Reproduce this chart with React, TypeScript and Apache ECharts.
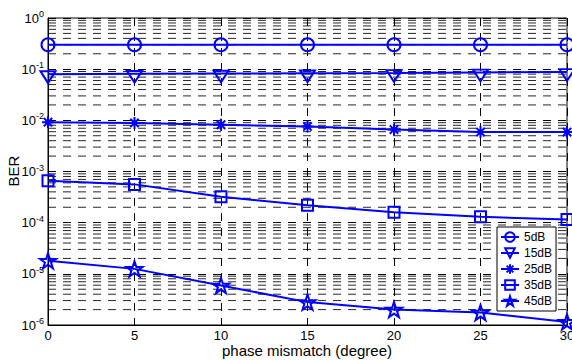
import React, { useEffect, useRef } from "react";
import * as echarts from "echarts";

const xValues = [0, 5, 10, 15, 20, 25, 30];
const seriesNames = ["5dB", "15dB", "25dB", "35dB", "45dB"];
const ber5dB = [0.3, 0.3, 0.3, 0.3, 0.3, 0.3, 0.3];
const ber15dB = [0.08, 0.081, 0.082, 0.083, 0.084, 0.086, 0.088];
const ber25dB = [0.0092, 0.0089, 0.0082, 0.0076, 0.0066, 0.0059, 0.0059];
const ber35dB = [6.6e-4, 5.6e-4, 3.2e-4, 2.2e-4, 1.6e-4, 1.3e-4, 1.15e-4];
const ber45dB = [1.8e-5, 1.25e-5, 5.9e-6, 2.8e-6, 2.0e-6, 1.75e-6, 1.15e-6];
const decadeExponents = [-6, -5, -4, -3, -2, -1];
const minorMultipliers = [2, 3, 4, 5, 6, 7, 8, 9];
const xAxisTitle = "phase mismatch (degree)";
const yAxisTitle = "BER";

const BLUE = "#0000ff";
const FONT = "Liberation Sans, Arial, Helvetica, sans-serif";

const symbols = [
  "circle",
  "path://M0,0L10,0L5,9Z",
  "path://M5,0L5,10M0,5L10,5M1.5,1.5L8.5,8.5M1.5,8.5L8.5,1.5",
  "rect",
  "path://M50,0L61.2,34.5L97.6,34.5L68.2,55.9L79.4,90.5L50,69.1L20.6,90.5L31.8,55.9L2.4,34.5L38.8,34.5Z",
];
const symbolSizes = [13, [15, 13], 12, 11, 16];

export default function App() {
  const ref = useRef<HTMLDivElement>(null);
  useEffect(() => {
    if (!ref.current) return;
    const chart = echarts.init(ref.current, null, { renderer: "svg" });
    const allData = [ber5dB, ber15dB, ber25dB, ber35dB, ber45dB];
    const minorData: any[] = [];
    decadeExponents.forEach((e) =>
      minorMultipliers.forEach((m) => {
        const v = m * Math.pow(10, e);
        minorData.push([xValues[0], v]);
        minorData.push([xValues[xValues.length - 1], v]);
        minorData.push([xValues[xValues.length - 1], "-"]);
      })
    );
    const series: any[] = [
      {
        type: "line",
        data: minorData,
        silent: true,
        showSymbol: false,
        symbol: "none",
        connectNulls: false,
        lineStyle: { color: "#000", type: [8, 7], width: 1, opacity: 0.85 },
        z: 1,
      },
    ];
    allData.forEach((d, i) =>
      series.push({
        name: seriesNames[i],
        type: "line",
        data: d.map((v, j) => [xValues[j], v]),
        symbol: symbols[i],
        symbolSize: symbolSizes[i],
        symbolKeepAspect: true,
        symbolOffset: i === 1 ? [0, 3] : [0, 0],
        showAllSymbol: true,
        clip: false,
        lineStyle: { color: BLUE, width: 2 },
        itemStyle: { color: "rgba(0,0,0,0)", borderColor: BLUE, borderWidth: 2 },
        z: 5,
      })
    );
    chart.setOption({
      animation: false,
      backgroundColor: "#fff",
      textStyle: { fontFamily: FONT },
      grid: {
        left: 48,
        right: 5,
        top: 18,
        height: 307,
        outerBoundsMode: "none",
        containLabel: false,
        show: true,
        borderColor: "#000",
        borderWidth: 1,
        backgroundColor: "transparent",
      },
      graphic: [
        {
          type: "text",
          x: 307,
          y: 350,
          style: {
            text: xAxisTitle,
            fontSize: 15,
            fontFamily: FONT,
            fill: "#000",
            align: "center",
            verticalAlign: "middle",
          },
        },
        {
          type: "text",
          x: 13,
          y: 171,
          rotation: Math.PI / 2,
          style: {
            text: yAxisTitle,
            fontSize: 15,
            fontFamily: FONT,
            fill: "#000",
            align: "center",
            verticalAlign: "middle",
          },
        },
      ],
      legend: {
        orient: "vertical",
        left: 497,
        top: 227,
        padding: [4, 4, 4, 3],
        itemWidth: 18,
        itemHeight: 12,
        itemGap: 4,
        backgroundColor: "#fff",
        borderColor: "#000",
        borderWidth: 1,
        borderRadius: 0,
        textStyle: { fontSize: 12, color: "#000", fontFamily: FONT },
        data: seriesNames,
      },
      xAxis: {
        type: "value",
        min: 0,
        max: 30,
        interval: 5,
        axisLine: { lineStyle: { color: "#000", width: 1 } },
        axisTick: { inside: true, length: 5, lineStyle: { color: "#000" } },
        axisLabel: { fontSize: 13, color: "#000", margin: 4, fontFamily: FONT },
        splitLine: { show: true, lineStyle: { color: "#000", type: [8, 7], width: 1 } },
      },
      yAxis: {
        type: "log",
        logBase: 10,
        min: 1e-6,
        max: 1,
        splitNumber: 6,
        axisLine: { show: true, lineStyle: { color: "#000", width: 1 } },
        axisTick: { inside: true, length: 5, lineStyle: { color: "#000" } },
        axisLabel: {
          margin: 4,
          color: "#000",
          fontFamily: FONT,
          formatter: (v: number) => `{b|10}{e|${Math.round(Math.log10(v))}}`,
          rich: {
            b: {
              fontSize: 13,
              color: "#000",
              fontFamily: FONT,
              verticalAlign: "bottom",
              padding: [0, 0, 2, 0],
            },
            e: {
              fontSize: 9,
              color: "#000",
              fontFamily: FONT,
              verticalAlign: "bottom",
              padding: [0, 0, 8, 0],
            },
          },
        },
        splitLine: { show: true, lineStyle: { color: "#000", type: [8, 7], width: 1 } },
      },
      series,
    });
    return () => chart.dispose();
  }, []);
  return (
    <div
      ref={ref}
      style={{ position: "fixed", left: 0, top: 0, width: 572, height: 360 }}
    />
  );
}
